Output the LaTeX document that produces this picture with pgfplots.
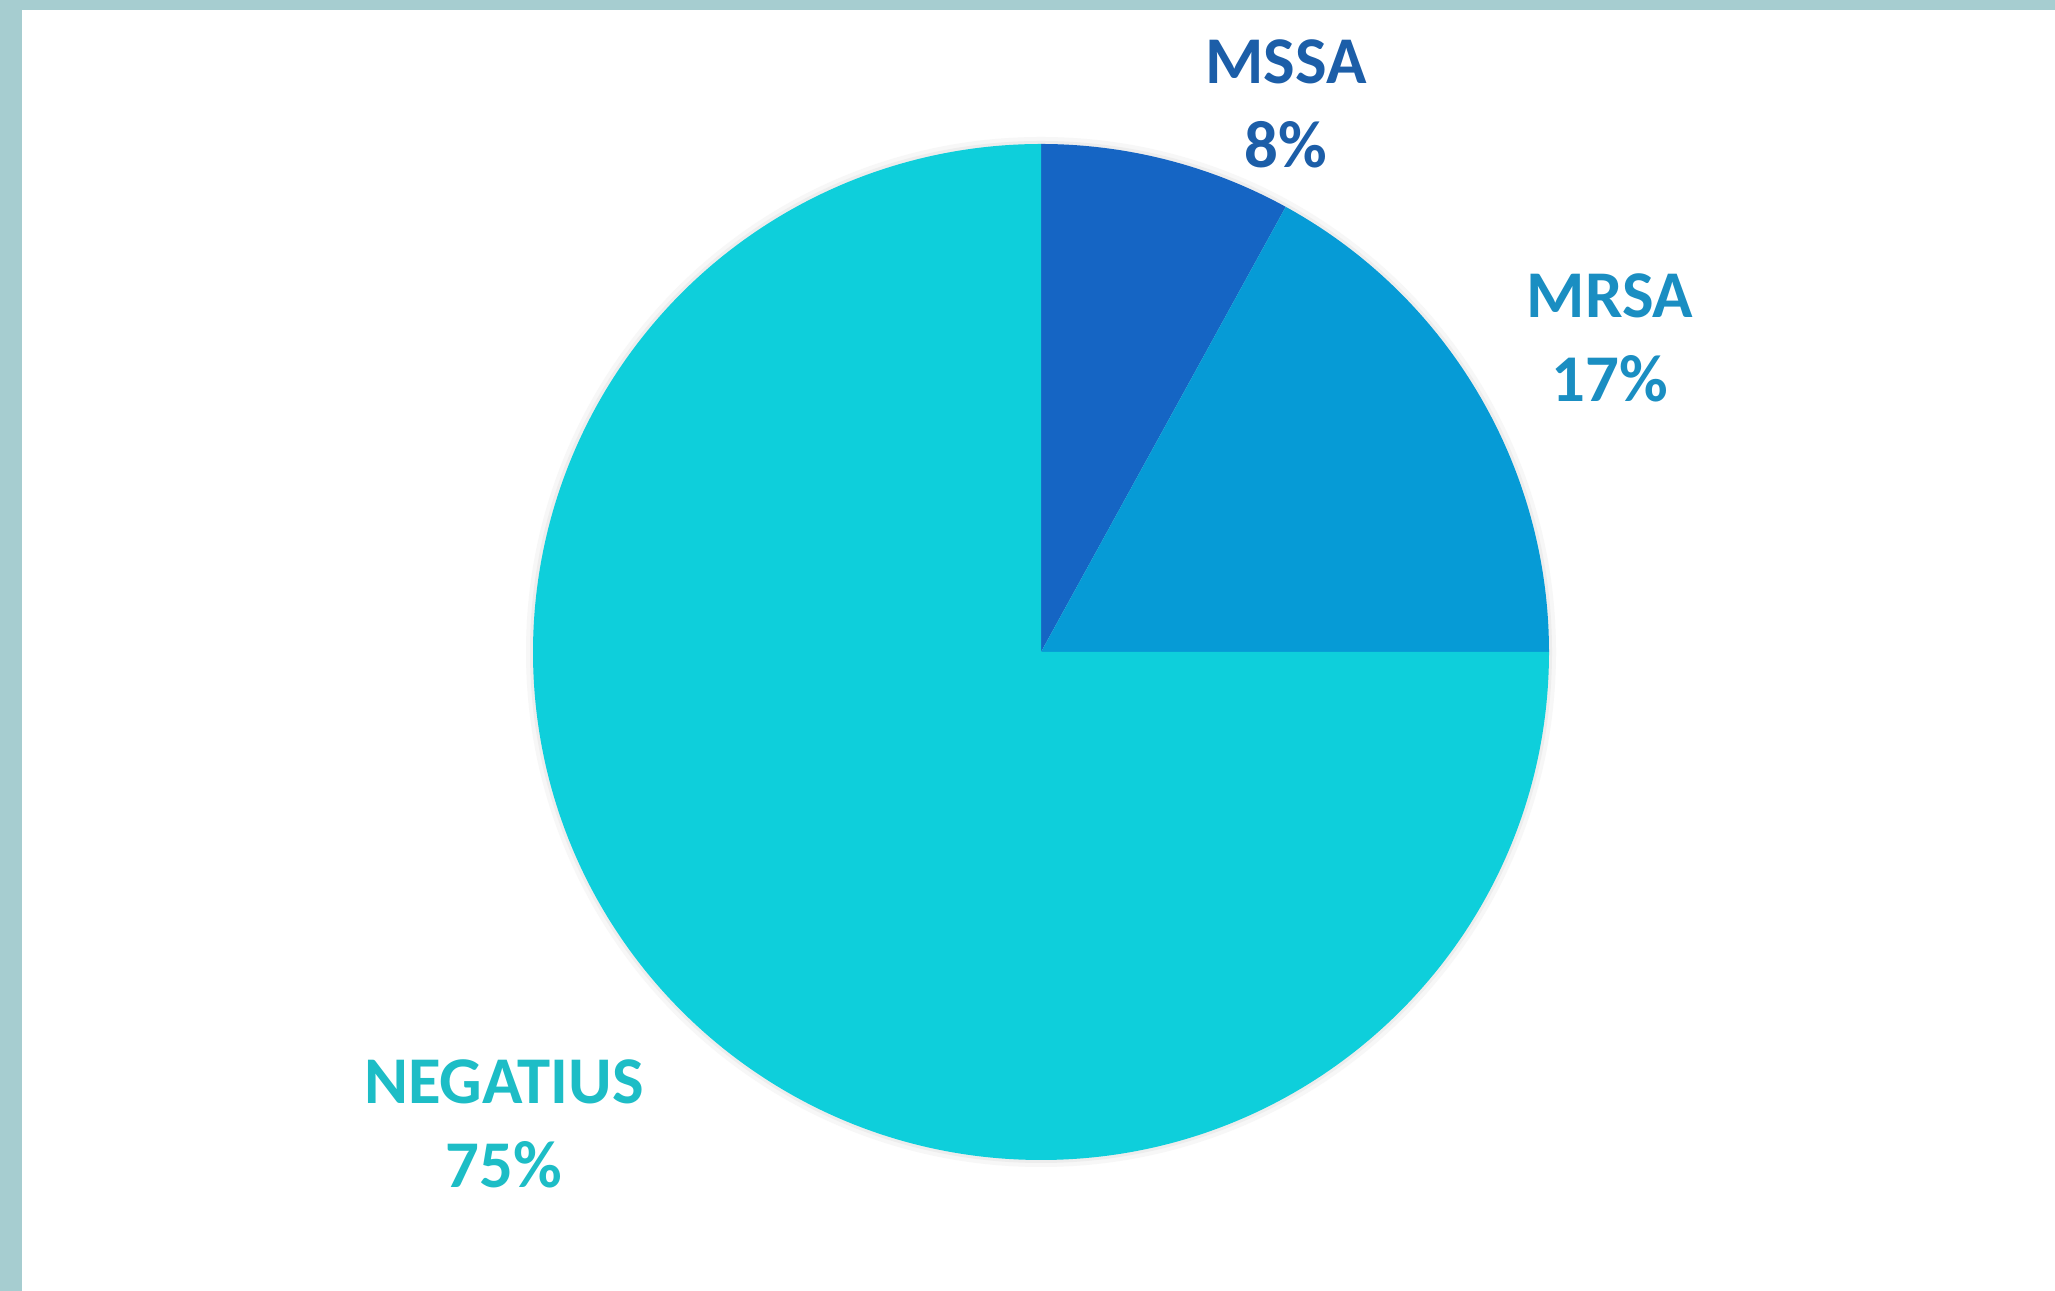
\documentclass[border=0pt]{standalone}
\usepackage{pgfplots}
\pgfplotsset{compat=1.18}
\usepackage{fontspec}
\setmainfont{Carlito}
\definecolor{frame}{HTML}{A6CDD0}
\definecolor{cMSSA}{HTML}{1565C4}
\definecolor{cMRSA}{HTML}{069BD6}
\definecolor{cNEG}{HTML}{0ECFDB}
\definecolor{tMSSA}{HTML}{1C5EA8}
\definecolor{tMRSA}{HTML}{1A8EC2}
\definecolor{tNEG}{HTML}{1DBDC6}
% shares in percent
\def\vMSSA{8}
\def\vMRSA{17}
\def\vNEG{75}
\begin{document}
\begin{tikzpicture}
\path[use as bounding box] (0,0) rectangle (20.55,12.91);
\begin{axis}[at={(0,0)}, anchor=origin, scale only axis,
  width=20.55cm, height=12.91cm, xmin=0, xmax=2055, ymin=0, ymax=1291,
  hide axis, clip=false]
  \fill[white] (axis cs:0,0) rectangle (axis cs:2055,1291);
  \fill[frame] (axis cs:0,0) rectangle (axis cs:22,1291);
  \fill[frame] (axis cs:0,1281) rectangle (axis cs:2055,1291);
  \fill[black!3] (axis cs:1041,639) circle[radius=5.15cm];
  \fill[black!7] (axis cs:1041,639) circle[radius=5.11cm];
  \pgfmathsetmacro{\aA}{90}
  \pgfmathsetmacro{\aB}{90-3.6*\vMSSA}
  \pgfmathsetmacro{\aC}{\aB-3.6*\vMRSA}
  \pgfmathsetmacro{\aD}{\aC-3.6*\vNEG}
  \fill[cMSSA] (axis cs:1041,639) -- ++(\aA:5.08cm) arc[start angle=\aA, end angle=\aB, radius=5.08cm] -- cycle;
  \fill[cMRSA] (axis cs:1041,639) -- ++(\aB:5.08cm) arc[start angle=\aB, end angle=\aC, radius=5.08cm] -- cycle;
  \fill[cNEG] (axis cs:1041,639) -- ++(\aC:5.08cm) arc[start angle=\aC, end angle=\aD, radius=5.08cm] -- cycle;
  \node[font=\fontsize{19}{24}\selectfont\bfseries, text=tMSSA, align=center] at (axis cs:1286,1187) {MSSA\\[0pt]\vMSSA\%};
  \node[font=\fontsize{19}{24}\selectfont\bfseries, text=tMRSA, align=center] at (axis cs:1610,953) {MRSA\\[0pt]\vMRSA\%};
  \node[font=\fontsize{19}{24}\selectfont\bfseries, text=tNEG, align=center] at (axis cs:504,167) {NEGATIUS\\[0pt]\vNEG\%};
\end{axis}
\end{tikzpicture}
\end{document}
